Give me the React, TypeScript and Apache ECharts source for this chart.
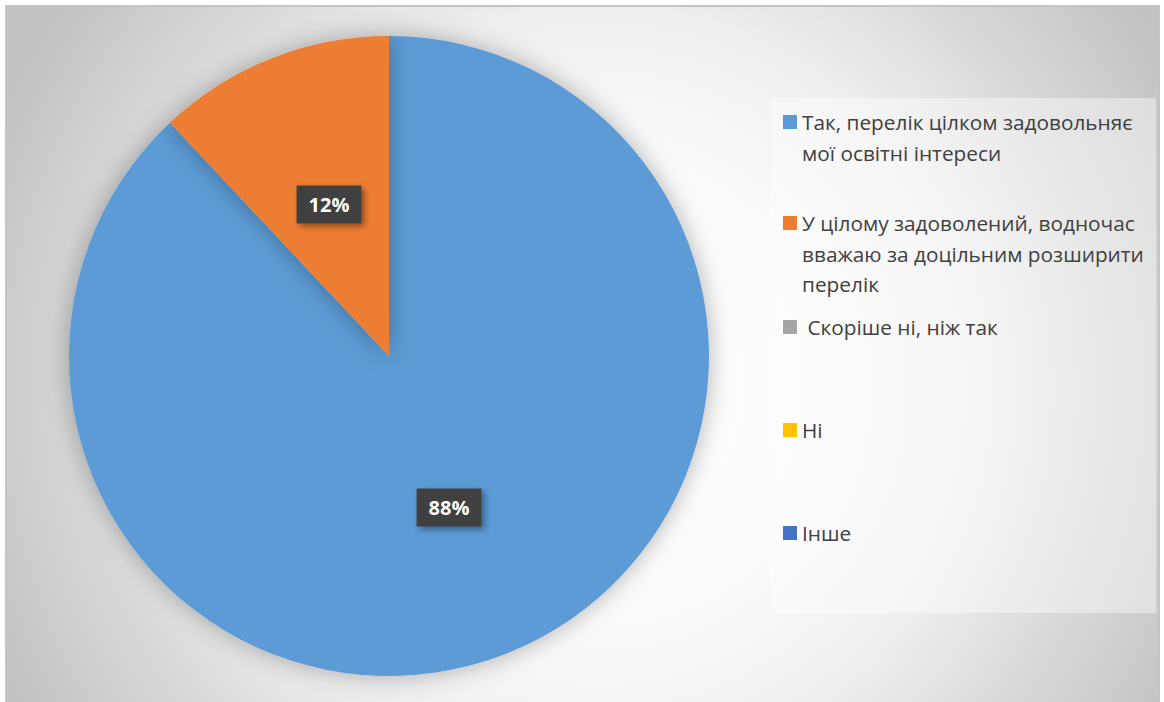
import React, { useEffect, useRef } from "react";
import * as echarts from "echarts";

const categories = [
  "Так, перелік цілком задовольняє\nмої освітні інтереси",
  "У цілому задоволений, водночас\nвважаю за доцільним розширити\nперелік",
  " Скоріше ні, ніж так",
  "Ні",
  "Інше",
];
const values = [88, 12, 0, 0, 0];
const colors = ["#5B9BD5", "#ED7D31", "#A5A5A5", "#FFC000", "#4472C4"];
const legendIconCenters = [122, 223, 327, 430, 533];

export default function App() {
  const ref = useRef<HTMLDivElement>(null);
  useEffect(() => {
    if (!ref.current) return;
    const chart = echarts.init(ref.current, undefined, { renderer: "svg" });
    const lineH = 30.5;
    const legends = categories.map((name, i) => {
      const n = name.split("\n").length;
      return {
        orient: "vertical",
        left: 783,
        top: legendIconCenters[i] - (lineH / 2) * (2 * n - 1),
        padding: 0,
        itemWidth: 14,
        itemHeight: 14,
        icon: "rect",
        selectedMode: false,
        formatter: (nm: string) => "\n".repeat(n - 1) + nm,
        textStyle: {
          fontFamily: "Open Sans",
          fontSize: 20.8,
          color: "#404040",
          lineHeight: lineH,
        },
        data: [name],
      };
    });
    chart.setOption({
      animation: false,
      graphic: [
        {
          type: "rect",
          z: -10,
          shape: { x: 6, y: 6, width: 1153, height: 700 },
          style: {
            fill: new echarts.graphic.RadialGradient(
              600,
              390,
              660,
              [
                { offset: 0, color: "#ffffff" },
                { offset: 0.35, color: "#fbfbfb" },
                { offset: 0.58, color: "#eeeeee" },
                { offset: 0.8, color: "#d6d6d6" },
                { offset: 1, color: "#c2c2c2" },
              ],
              true
            ),
            stroke: "#c4c4c4",
            lineWidth: 2,
          },
        },
        {
          type: "rect",
          z: -5,
          shape: { x: 771, y: 98, width: 385, height: 515 },
          style: { fill: "rgba(255,255,255,0.4)" },
        },
      ],
      legend: legends,
      series: [
        {
          type: "pie",
          center: [389, 356],
          radius: [0, 320],
          startAngle: 90,
          clockwise: true,
          label: {
            show: true,
            position: "inside",
            formatter: "{d}%",
            color: "#ffffff",
            fontFamily: "Open Sans",
            fontWeight: "bold",
            fontSize: 20,
            backgroundColor: "#404040",
            padding: [9, 12, 9, 12],
            shadowBlur: 6,
            shadowOffsetX: 3,
            shadowOffsetY: 3,
            shadowColor: "rgba(0,0,0,0.4)",
          },
          labelLine: { show: false },
          itemStyle: {
            shadowBlur: 25,
            shadowColor: "rgba(0,0,0,0.3)",
          },
          emphasis: { disabled: true },
          data: categories.map((name, i) => ({
            name,
            value: values[i],
            itemStyle: { color: colors[i] },
            label: values[i] === 0 ? { show: false } : undefined,
          })),
        },
      ],
    });
    return () => chart.dispose();
  }, []);
  return (
    <div
      ref={ref}
      style={{
        position: "absolute",
        left: 0,
        top: 0,
        width: 1164,
        height: 702,
        background: "#ffffff",
      }}
    />
  );
}
